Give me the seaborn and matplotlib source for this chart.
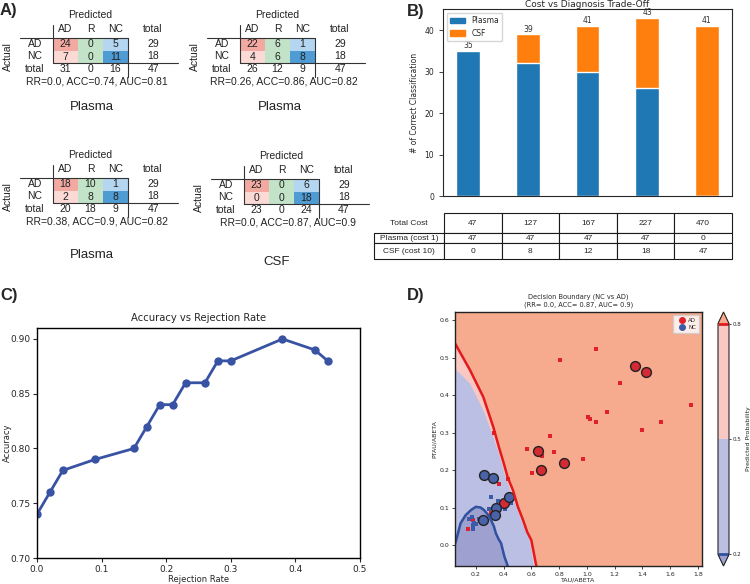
import matplotlib
matplotlib.use("Agg")
import matplotlib.pyplot as plt
import seaborn as sns
import numpy as np
from matplotlib.colors import ListedColormap, BoundaryNorm
from matplotlib.cm import ScalarMappable
from matplotlib.patches import Patch
from matplotlib.lines import Line2D

# ==========================================
#                  DATA
# ==========================================

# A) confusion matrices (rows: actual AD / NC, cols: predicted AD / R / NC)
MATRIX_TITLES = ["Plasma", "Plasma", "Plasma", "CSF"]
MATRIX_COUNTS = [
    [[24, 0, 5], [7, 0, 11]],
    [[22, 6, 1], [4, 6, 8]],
    [[18, 10, 1], [2, 8, 8]],
    [[23, 0, 6], [0, 0, 18]],
]
MATRIX_SCORES = [
    "RR=0.0, ACC=0.74, AUC=0.81",
    "RR=0.26, ACC=0.86, AUC=0.82",
    "RR=0.38, ACC=0.9, AUC=0.82",
    "RR=0.0, ACC=0.87, AUC=0.9",
]
PRED_LABELS = ["AD", "R", "NC"]
ACTUAL_LABELS = ["AD", "NC"]

# B) cost vs diagnosis
PLASMA_CORRECT = [35, 32, 30, 26, 0]
CSF_CORRECT = [0, 7, 11, 17, 41]
TOTAL_COST = [47, 127, 167, 227, 470]
PLASMA_TESTED = [47, 47, 47, 47, 0]
CSF_TESTED = [0, 8, 12, 18, 47]
TABLE_ROWS = ["Total Cost", "Plasma (cost 1)", "CSF (cost 10)"]

# C) accuracy vs rejection rate
REJECTION_RATE = [0.0, 0.02, 0.04, 0.09, 0.15, 0.17, 0.19, 0.21, 0.23, 0.26, 0.28, 0.30, 0.38, 0.43, 0.45]
ACCURACY = [0.74, 0.76, 0.78, 0.79, 0.80, 0.82, 0.84, 0.84, 0.86, 0.86, 0.88, 0.88, 0.90, 0.89, 0.88]

# D) decision boundary: samples
AD_X = [0.806, 1.068, 1.242, 1.143, 1.753, 1.538, 1.40, 1.065, 1.005, 1.025, 0.738, 0.971,
        0.571, 0.762, 0.678, 0.838, 0.607, 0.333, 0.365, 0.43, 0.31, 0.147, 0.18]
AD_Y = [0.495, 0.523, 0.433, 0.355, 0.373, 0.329, 0.307, 0.329, 0.342, 0.337, 0.292, 0.229,
        0.255, 0.249, 0.238, 0.228, 0.193, 0.300, 0.164, 0.175, 0.086, 0.044, 0.067]
NC_X = [0.309, 0.358, 0.455, 0.411, 0.292, 0.169, 0.22, 0.188, 0.20, 0.178, 0.18, 0.15]
NC_Y = [0.127, 0.118, 0.113, 0.095, 0.095, 0.076, 0.07, 0.06, 0.057, 0.053, 0.044, 0.07]
AD_RING_X = [1.35, 1.43, 0.645, 0.67, 0.835, 0.406]
AD_RING_Y = [0.477, 0.462, 0.251, 0.200, 0.220, 0.111]
NC_RING_X = [0.26, 0.326, 0.44, 0.345, 0.338, 0.253]
NC_RING_Y = [0.187, 0.178, 0.129, 0.098, 0.080, 0.068]

# D) probability contours
P80_X = [0.04, 0.158, 0.254, 0.326, 0.369, 0.40, 0.43, 0.467, 0.503, 0.54, 0.57, 0.60, 0.636]
P80_Y = [0.545, 0.467, 0.395, 0.315, 0.258, 0.22, 0.18, 0.147, 0.102, 0.067, 0.035, 0.013, -0.056]
P50_X = [0.04, 0.158, 0.254, 0.326, 0.37, 0.406, 0.45, 0.491, 0.54, 0.588, 0.62]
P50_Y = [0.475, 0.431, 0.36, 0.289, 0.24, 0.191, 0.145, 0.102, 0.055, 0.013, -0.056]
P20_X = [0.04, 0.06, 0.09, 0.127, 0.164, 0.2, 0.235, 0.26, 0.29, 0.309, 0.33, 0.345, 0.365, 0.382, 0.406, 0.43]
P20_Y = [-0.01, 0.015, 0.058, 0.08, 0.093, 0.102, 0.1, 0.093, 0.08, 0.067, 0.05, 0.031, 0.015, 0.005, -0.031, -0.056]

# ==========================================
#                 STYLE
# ==========================================
sns.set_theme(style="ticks")
plt.rcParams["font.family"] = ["DejaVu Sans"]
HELV = "Liberation Sans"

W, H = 750, 584
fig = plt.figure(figsize=(7.5, 5.84), dpi=100)


def px_axes(left, top, width, height):
    return fig.add_axes([left / W, 1 - (top + height) / H, width / W, height / H])


# ==========================================
#        A) CONFUSION MATRICES
# ==========================================
CELL_COLORS = ["#f2a9a2", "#fbd9d5", "#c2e3c7", "#b4d6f0", "#4f9bd4"]
COLOR_INDEX = np.array([[0, 2, 3], [1, 2, 4]])
MATRIX_BOXES = [(53, 38), (240, 38), (53, 178), (244, 179)]
TITLE_POS = [(1.55, 5.52), (1.6, 5.5), (1.56, 6.16), (1.3, 6.64)]

for k in range(4):
    left, top = MATRIX_BOXES[k]
    ax = px_axes(left, top, 75, 25)
    counts = np.array(MATRIX_COUNTS[k])
    sns.heatmap(COLOR_INDEX, cmap=ListedColormap(CELL_COLORS), vmin=-0.5, vmax=4.5,
                annot=counts, fmt="d", cbar=False, xticklabels=False, yticklabels=False,
                annot_kws=dict(fontsize=7.5, color="#222222", family=HELV), ax=ax)
    ax.set_axis_off()
    txt = dict(ha="center", va="center", fontsize=7.5, family=HELV, color="#222222")
    ax.text(1.5, -1.84, "Predicted", **txt)
    for j, lab in enumerate(PRED_LABELS):
        ax.text(j + 0.5, -0.69, lab, **txt)
    ax.text(4.0, -0.69, "total", **txt)
    for i, lab in enumerate(ACTUAL_LABELS):
        ax.text(-0.72, i + 0.47, lab, **txt)
        ax.text(4.0, i + 0.47, str(counts[i].sum()), **txt)
    ax.text(-0.72, 2.5, "total", **txt)
    for j, v in enumerate(counts.sum(axis=0)):
        ax.text(j + 0.5, 2.5, str(v), **txt)
    ax.text(4.0, 2.5, str(counts.sum()), **txt)
    ax.text(-1.79, 1.49, "Actual", rotation=90, **txt)
    ax.text(1.75, 3.5, MATRIX_SCORES[k], **txt)
    tx, ty = TITLE_POS[k]
    ax.text(tx, ty, MATRIX_TITLES[k], ha="center", va="center", fontsize=9.5, family=HELV, color="#222222")
    line = dict(color="#333333", lw=0.8, clip_on=False)
    ax.plot([-1.32, 3], [0, 0], **line)
    ax.plot([0, 0], [-1.04, 2], **line)
    ax.plot([3, 3], [0, 3.12], **line)
    ax.plot([0, 5], [2, 2], **line)

# ==========================================
#        B) COST VS DIAGNOSIS
# ==========================================
BLUE, ORANGE = "#1f77b4", "#ff7f0e"
ax_b = px_axes(443, 9, 289, 187)
pos = np.arange(len(TOTAL_COST))
totals = np.array(PLASMA_CORRECT) + np.array(CSF_CORRECT)
sns.barplot(x=pos, y=totals, color=ORANGE, width=0.4, saturation=1, errorbar=None, ax=ax_b)
sns.barplot(x=pos, y=PLASMA_CORRECT, color=BLUE, width=0.4, saturation=1, errorbar=None, ax=ax_b)
ax_b.bar_label(ax_b.containers[0], fontsize=5.5, padding=0.5, color="#333333")
ax_b.set_xlim(-0.42, 4.42)
ax_b.set_ylim(0, 45.15)
ax_b.set_xticks([])
ax_b.set_yticks([0, 10, 20, 30, 40])
ax_b.tick_params(axis="y", labelsize=5.5, length=3, width=0.6)
ax_b.set_ylabel("# of Correct Classification", fontsize=5.5)
ax_b.set_title("Cost vs Diagnosis Trade-Off", fontsize=6.5, pad=1.5)
for sp in ax_b.spines.values():
    sp.set_linewidth(0.8)
ax_b.legend(handles=[Patch(color=BLUE, label="Plasma"), Patch(color=ORANGE, label="CSF")],
            loc="upper left", fontsize=5.5, frameon=True)

ax_t = px_axes(444, 213, 288, 46)
ax_t.set_axis_off()
cell_text = [[str(v) for v in TOTAL_COST], [str(v) for v in PLASMA_TESTED], [str(v) for v in CSF_TESTED]]
tab = ax_t.table(cellText=cell_text, rowLabels=TABLE_ROWS, cellLoc="center", rowLoc="center",
                 bbox=[0, 0, 1, 1])
tab.auto_set_font_size(False)
tab.set_fontsize(6)
row_h = np.array([20, 10, 15.7]) / 46
for (r, c), cell in tab.get_celld().items():
    cell.set_height(row_h[r])
    cell.set_width(60 / 288 if c == -1 else 0.2)
    cell.get_text().set_family(HELV)
    cell.set_linewidth(0.8)
tab[0, -1].visible_edges = "open"

# ==========================================
#     C) ACCURACY VS REJECTION RATE
# ==========================================
ax_c = px_axes(37, 328, 323, 230)
sns.lineplot(x=REJECTION_RATE, y=ACCURACY, color="#3953a4", marker="o", markersize=6,
             markeredgewidth=0, linewidth=2, ax=ax_c)
ax_c.set_xlim(0, 0.5)
ax_c.set_ylim(0.70, 0.91)
ax_c.set_xticks(np.arange(0, 0.51, 0.1))
ax_c.set_xticklabels([f"{v:.1f}" for v in np.arange(0, 0.51, 0.1)])
ax_c.set_yticks([0.70, 0.75, 0.80, 0.85, 0.90])
ax_c.set_yticklabels([f"{v:.2f}" for v in [0.70, 0.75, 0.80, 0.85, 0.90]])
ax_c.tick_params(labelsize=6.5, length=3, width=0.8, pad=2)
ax_c.set_title("Accuracy vs Rejection Rate", fontsize=7.2, pad=5)
ax_c.set_xlabel("Rejection Rate", fontsize=6)
ax_c.set_ylabel("Accuracy", fontsize=6)
ax_c.xaxis.set_label_coords(0.5, -0.075)
ax_c.yaxis.set_label_coords(-0.078, 0.5)
for sp in ax_c.spines.values():
    sp.set_linewidth(1)
    sp.set_color("black")

# ==========================================
#        D) DECISION BOUNDARY
# ==========================================
SALMON, PINK, LAVENDER, DARK_LAV = "#f6aa8e", "#f9c8c3", "#bcbfe4", "#9ea0d0"
RED_LINE, BLUE_LINE = "#e31a1c", "#3050a0"
ax_d = px_axes(455, 312, 247, 254)
x0, x1, y0, y1 = 0.05, 1.83, -0.056, 0.622
ax_d.set_facecolor(SALMON)
corner_x, corner_y = [x0 - 0.1], [y0 - 0.1]
ax_d.fill(np.concatenate([P80_X, corner_x]), np.concatenate([P80_Y, corner_y]), color=PINK, lw=0)
ax_d.fill(np.concatenate([P50_X, corner_x]), np.concatenate([P50_Y, corner_y]), color=LAVENDER, lw=0)
ax_d.fill(np.concatenate([P20_X, corner_x]), np.concatenate([P20_Y, corner_y]), color=DARK_LAV, lw=0)
ax_d.plot(P80_X, P80_Y, color=RED_LINE, lw=1.8)
ax_d.plot(P20_X, P20_Y, color=BLUE_LINE, lw=1.8)

sns.scatterplot(x=AD_X, y=AD_Y, color="#e0202a", marker="s", s=12, linewidth=0, ax=ax_d)
sns.scatterplot(x=NC_X, y=NC_Y, color="#3b5ba8", marker="s", s=12, linewidth=0, ax=ax_d)
sns.scatterplot(x=AD_RING_X, y=AD_RING_Y, color="#d42a34", s=50, edgecolor="#222222", linewidth=1, ax=ax_d)
sns.scatterplot(x=NC_RING_X, y=NC_RING_Y, color="#4a62a8", s=50, edgecolor="#222222", linewidth=1, ax=ax_d)

ax_d.set_xlim(x0, x1)
ax_d.set_ylim(y0, y1)
ax_d.set_xticks(np.arange(0.2, 1.81, 0.2))
ax_d.set_xticklabels([f"{v:.1f}" for v in np.arange(0.2, 1.81, 0.2)])
ax_d.set_yticks(np.arange(0.0, 0.61, 0.1))
ax_d.set_yticklabels([f"{v:.1f}" for v in np.arange(0.0, 0.61, 0.1)])
ax_d.tick_params(labelsize=4.5, length=2, width=0.6, pad=2)
ax_d.set_xlabel("TAU/ABETA", fontsize=4.5, labelpad=1)
ax_d.set_ylabel("PTAU/ABETA", fontsize=4.5, labelpad=2)
ax_d.set_title("Decision Boundary (NC vs AD)\n(RR= 0.0, ACC= 0.87, AUC= 0.9)", fontsize=4.8, pad=4)
for sp in ax_d.spines.values():
    sp.set_linewidth(1)
    sp.set_color("#222222")
ax_d.legend(handles=[Line2D([], [], marker="o", ls="", color="#e0202a", markersize=4, label="AD"),
                     Line2D([], [], marker="o", ls="", color="#3b5ba8", markersize=4, label="NC")],
            loc="upper right", fontsize=4, frameon=True, handletextpad=0.2, borderpad=0.5)

cmap = ListedColormap([LAVENDER, PINK])
cmap.set_under(DARK_LAV)
cmap.set_over(SALMON)
norm = BoundaryNorm([0.2, 0.5, 0.8], cmap.N)
cax = px_axes(718, 312, 11, 254)
cbar = fig.colorbar(ScalarMappable(norm=norm, cmap=cmap), cax=cax, extend="both",
                    ticks=[0.2, 0.5, 0.8], extendfrac=0.05)
cbar.add_lines([0.2, 0.8], colors=[BLUE_LINE, RED_LINE], linewidths=[2, 2])
cbar.ax.tick_params(labelsize=4, length=1.5, width=0.6, pad=0.8)
cbar.outline.set_linewidth(0.8)
cbar.set_label("Predicted Probability", fontsize=4.5)
cbar.ax.yaxis.set_label_coords(2.5, 0.5)

# panel letters
for label, (lx, ly) in {"A)": (0, 3), "B)": (407, 4), "C)": (0, 288), "D)": (407, 288)}.items():
    fig.text(lx / W, 1 - ly / H, label, fontsize=12, fontweight="bold", family=HELV, va="top")

fig.savefig("out.png", dpi=100)
